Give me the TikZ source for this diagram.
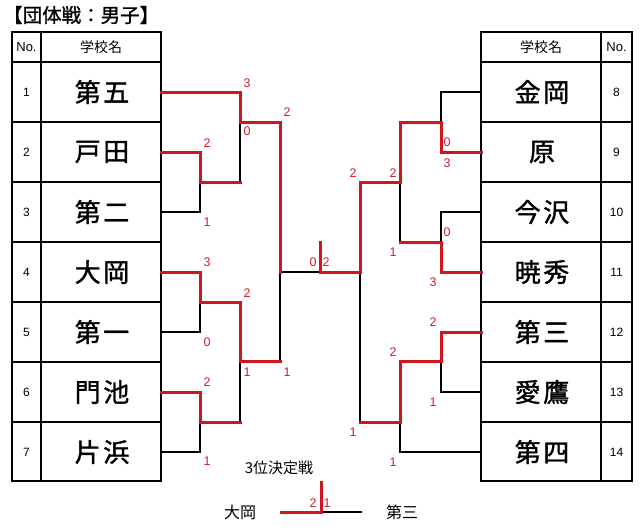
\documentclass[tikz,border=0pt]{standalone}
\usepackage{fontspec}
\setmainfont{Liberation Sans}
\newfontfamily\jp{Noto Sans CJK JP}
\newfontfamily\jptitle[FakeBold=1.2]{Noto Sans CJK JP}
\newfontfamily\jpname[LetterSpace=10,FakeBold=1.3]{Noto Sans CJK JP}
\definecolor{wr}{RGB}{210,20,30}
\definecolor{sr}{RGB}{205,30,40}
\begin{document}
\begin{tikzpicture}[x=1pt,y=-1pt,
  bl/.style={line width=2.2pt, black, line cap=rect},
  rl/.style={line width=3pt, wr, line cap=rect, line join=miter},
  tb/.style={line width=2.5pt},
  sc/.style={text=sr, font=\fontsize{12.5}{12.5}\selectfont, inner sep=0pt},
  nm/.style={font=\jpname\fontsize{26}{26}\selectfont, inner sep=0pt},
  no/.style={font=\fontsize{12}{12}\selectfont, inner sep=0pt},
  nohd/.style={font=\fontsize{13}{13}\selectfont, inner sep=0pt},
  hd/.style={font=\jp\fontsize{14}{14}\selectfont, inner sep=0pt},
]
\useasboundingbox (0,0) rectangle (643,531);

% title
\node[font=\jptitle\fontsize{19.5}{19.5}\selectfont, anchor=west, inner sep=0pt] (title) at (3,15) {【団体戦：男子】};

% left table
\draw[tb] (12,32) rectangle (161,481);
\draw[tb] (41,32) -- (41,481);
\foreach \yy in {62,122,182,242,302,362,422} \draw[tb] (12,\yy) -- (161,\yy);
\node[nohd] (lno) at (26.5,47) {No.};
\node[hd] (lhd) at (101,47) {学校名};
\foreach \n/\s [count=\i from 0] in {1/第五,2/戸田,3/第二,4/大岡,5/第一,6/門池,7/片浜}{
  \node[no] (ln\n) at (26.5,92+60*\i) {\n};
  \node[nm] (ls\n) at (102,92+60*\i) {\s};
}

% right table
\draw[tb] (481,32) rectangle (632,481);
\draw[tb] (601,32) -- (601,481);
\foreach \yy in {62,122,182,242,302,362,422} \draw[tb] (481,\yy) -- (632,\yy);
\node[hd] (rhd) at (541,47) {学校名};
\node[nohd] (rno) at (616.5,47) {No.};
\foreach \n/\s [count=\i from 0] in {8/金岡,9/原,10/今沢,11/暁秀,12/第三,13/愛鷹,14/第四}{
  \node[no] (rn\n) at (616.5,92+60*\i) {\n};
  \node[nm] (rs\n) at (542,92+60*\i) {\s};
}

% left bracket - black
\draw[bl] (161,212) -- (200,212) -- (200,182);
\draw[bl] (240,182) -- (240,122);
\draw[bl] (280,272) -- (320,272);
\draw[bl] (280,272) -- (280,361);
\draw[bl] (161,332) -- (200,332) -- (200,302);
\draw[bl] (161,452) -- (200,452) -- (200,422);
\draw[bl] (240,422) -- (240,361);
% right bracket - black
\draw[bl] (481,92) -- (441,92) -- (441,122);
\draw[bl] (481,212) -- (441,212) -- (441,242);
\draw[bl] (400,242) -- (400,182);
\draw[bl] (481,392) -- (441,392) -- (441,361);
\draw[bl] (481,452) -- (400,452) -- (400,422);
\draw[bl] (360,272) -- (360,422);

% red winner paths
\draw[rl] (161,92) -- (240,92) -- (240,122) -- (280,122) -- (280,272);
\draw[rl] (161,152) -- (200,152) -- (200,182) -- (240,182);
\draw[rl] (161,272) -- (200,272) -- (200,302) -- (240,302) -- (240,361) -- (280,361);
\draw[rl] (161,392) -- (200,392) -- (200,422) -- (240,422);
\draw[rl] (320,242) -- (320,272) -- (360,272);
\draw[rl] (481,152) -- (441,152) -- (441,122) -- (400,122) -- (400,182) -- (360,182) -- (360,272);
\draw[rl] (481,272) -- (441,272) -- (441,242) -- (400,242);
\draw[rl] (481,332) -- (441,332) -- (441,361) -- (400,361) -- (400,422) -- (360,422);

% scores left
\node[sc] at (247,83) {3};
\node[sc] at (247,131) {0};
\node[sc] at (287,112) {2};
\node[sc] at (207,143) {2};
\node[sc] at (207,222) {1};
\node[sc] at (207,262) {3};
\node[sc] at (207,342) {0};
\node[sc] at (207,382) {2};
\node[sc] at (207,461) {1};
\node[sc] at (247,293) {2};
\node[sc] at (247,372) {1};
\node[sc] at (287,372) {1};
% final
\node[sc] at (313,262) {0};
\node[sc] at (326,262) {2};
% scores right
\node[sc] at (447,142) {0};
\node[sc] at (447,163) {3};
\node[sc] at (393,173) {2};
\node[sc] at (353,173) {2};
\node[sc] at (393,252) {1};
\node[sc] at (447,232) {0};
\node[sc] at (433,282) {3};
\node[sc] at (433,322) {2};
\node[sc] at (433,402) {1};
\node[sc] at (393,352) {2};
\node[sc] at (393,462) {1};
\node[sc] at (353,432) {1};

% third place match
\node[font=\jp\fontsize{15}{15}\selectfont, inner sep=0pt] (third) at (279,468) {3位決定戦};
\node[font=\jp\fontsize{16}{16}\selectfont, inner sep=0pt] (tA) at (240,512) {大岡};
\node[font=\jp\fontsize{16}{16}\selectfont, inner sep=0pt] (tB) at (402,512) {第三};
\coordinate (tm) at (321,512);
\coordinate (tt) at (321,482);
\draw[bl] (tm) -- (361,512);
\draw[rl] (281,512) -- (tm) -- (tt);
\node[sc] at (313,503) {2};
\node[sc] at (327,503) {1};
\end{tikzpicture}
\end{document}
